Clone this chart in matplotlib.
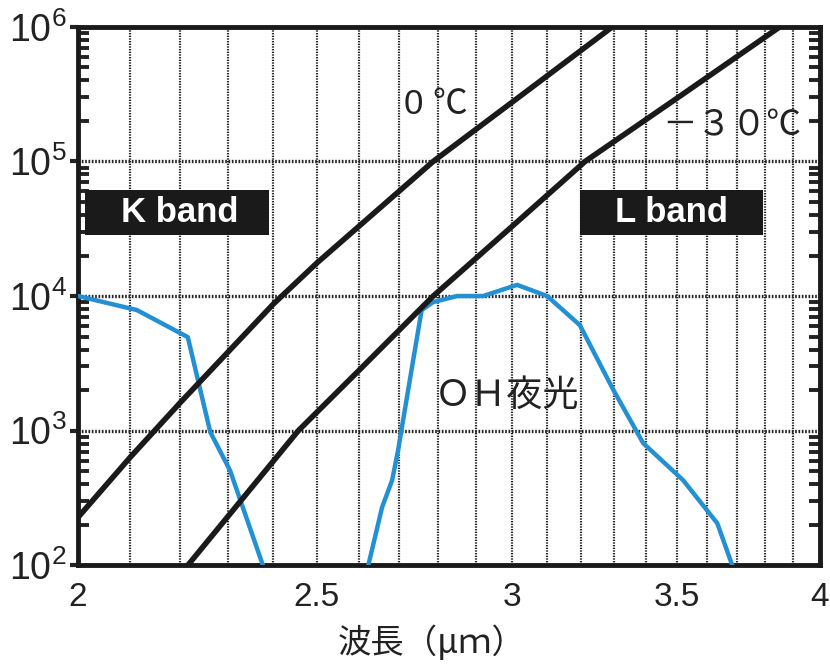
import numpy as np
import matplotlib
matplotlib.use('Agg')
import matplotlib.pyplot as plt
from matplotlib.patches import Rectangle
from matplotlib.ticker import FixedLocator, NullFormatter, LogLocator

plt.rcParams['font.family'] = ['Liberation Sans', 'Noto Sans CJK JP', 'DejaVu Sans']
plt.rcParams['mathtext.fontset'] = 'custom'
plt.rcParams['mathtext.rm'] = 'Liberation Sans'
plt.rcParams['mathtext.it'] = 'Liberation Sans'

# black body curves
x_0c = [2.0, 2.1, 2.2, 2.4, 2.5, 2.787, 3.0, 3.295]
y_0c = [227, 635, 1610, 8700, 17600, 1e5, 2.75e5, 1e6]

x_m30c = [2.216, 2.457, 2.6, 2.787, 3.0, 3.212, 3.5, 3.853]
y_m30c = [100, 1e3, 2800, 1e4, 32900, 1e5, 2.95e5, 1e6]

# OH airglow, K band side
x_ohk = [2.0, 2.113, 2.216, 2.263, 2.305, 2.377]
y_ohk = [1e4, 7870, 4950, 976, 508, 100]

# OH airglow, L band side
x_ohl = [2.623, 2.657, 2.682, 2.697, 2.728, 2.757, 2.787, 2.850, 2.920,
         3.014, 3.100, 3.196, 3.298, 3.391, 3.520, 3.634, 3.685]
y_ohl = [100, 270, 428, 716, 2500, 7870, 9020, 10000, 10000,
         12100, 10000, 6080, 2000, 807, 428, 205, 100]

xticks = [2, 2.5, 3, 3.5, 4]
xtick_labels = ['2', '2.5', '3', '3.5', '4']
xgrid = [2.1, 2.2, 2.3, 2.4, 2.5, 2.6, 2.7, 2.8, 2.9, 3.0,
         3.1, 3.2, 3.3, 3.4, 3.5, 3.6, 3.7, 3.8, 3.9]
yticks = [1e2, 1e3, 1e4, 1e5, 1e6]

fig = plt.figure(figsize=(8.3, 6.69), dpi=100)
ax = fig.add_axes([0.094, 0.155, 0.894, 0.805])
ax.set_xscale('log')
ax.set_yscale('log')
ax.set_xlim(2, 4)
ax.set_ylim(1e2, 1e6)

for xv in xgrid:
    ax.axvline(xv, color='#222222', lw=1.6, ls=(0, (0.6, 0.6)), zorder=1)
for yv in yticks[1:-1]:
    ax.axhline(yv, color='#222222', lw=2.4, ls=(0, (0.5, 0.5)), zorder=1)

blue = '#2290d3'
ax.plot(x_ohk, y_ohk, color=blue, lw=3.2, zorder=3)
ax.plot(x_ohl, y_ohl, color=blue, lw=3.2, zorder=3)
ax.plot(x_0c, y_0c, color='#1a1a1a', lw=4, zorder=4)
ax.plot(x_m30c, y_m30c, color='#1a1a1a', lw=4, zorder=4)

ax.xaxis.set_major_locator(FixedLocator(xticks))
ax.xaxis.set_minor_locator(FixedLocator([]))
ax.set_xticklabels(xtick_labels)
ax.xaxis.set_minor_formatter(NullFormatter())
ax.tick_params(axis='x', which='both', length=0, pad=12, labelsize=24, colors='#222222')

ax.yaxis.set_major_locator(FixedLocator(yticks))
ax.set_yticklabels(['$10^{%d}$' % int(np.log10(v)) for v in yticks])
ax.yaxis.set_minor_locator(LogLocator(base=10, subs=np.arange(2, 10)))
ax.yaxis.set_minor_formatter(NullFormatter())
ax.tick_params(axis='y', which='major', direction='out', length=6, width=3,
               labelsize=27, pad=2, colors='#222222')
ax.tick_params(axis='y', which='minor', direction='in', length=8, width=2.8,
               right=True, left=True, colors='#222222')

for s in ax.spines.values():
    s.set_linewidth(3.5)
    s.set_color('#1a1a1a')

ax.text(2.795, 2.63e5, '0 ℃', fontsize=25, color='#222222', ha='center',
        va='center', family=['Liberation Sans', 'Noto Sans CJK JP'], zorder=5)
ax.text(3.685, 1.84e5, '－３０℃', fontsize=25, color='#222222', ha='center',
        va='center', family=['Noto Sans CJK JP'], zorder=5)

# band boxes
ax.add_patch(Rectangle((0.0094, 0.613), 0.248, 0.084, transform=ax.transAxes,
                       fc='#1a1a1a', ec='none', zorder=6))
ax.add_patch(Rectangle((0.6766, 0.613), 0.247, 0.084, transform=ax.transAxes,
                       fc='#1a1a1a', ec='none', zorder=6))
ax.text(0.1375, 0.655, 'K band', transform=ax.transAxes, fontsize=25,
        fontweight='bold', color='white', ha='center', va='center', zorder=7)
ax.text(0.80, 0.655, 'L band', transform=ax.transAxes, fontsize=25,
        fontweight='bold', color='white', ha='center', va='center', zorder=7)

ax.text(2.985, 1800, 'ＯＨ夜光', fontsize=26, color='#222222', ha='center',
        va='center', family=['Noto Sans CJK JP'], zorder=5)

ax.set_xlabel('波長（μｍ）', fontsize=24, color='#222222', family=['Noto Sans CJK JP'])
ax.xaxis.label.set_va('center')
ax.xaxis.set_label_coords(0.477, -0.145)

fig.savefig('out.png', dpi=100, facecolor='white')
